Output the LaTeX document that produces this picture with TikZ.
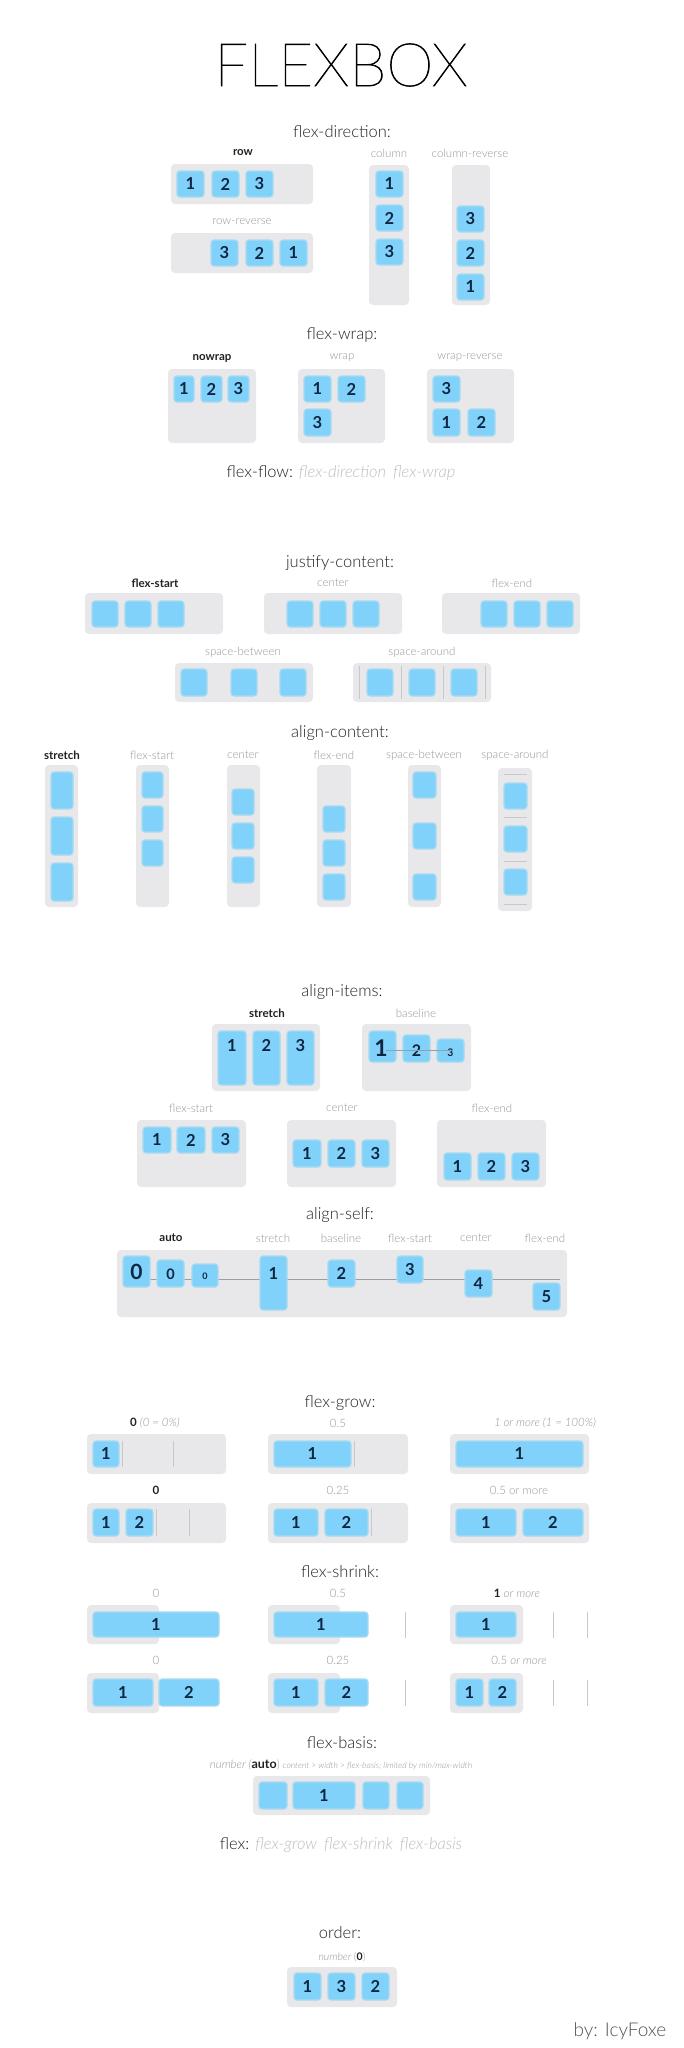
\documentclass[tikz,border=0pt]{standalone}
\usepackage{fontspec}
\setmainfont{Lato}
\newfontfamily\lightf{Lato Light}
\newfontfamily\hairf{Lato Hairline}[FakeBold=1.2]
\definecolor{boxgray}{RGB}{232,232,234}
\definecolor{itemblue}{RGB}{128,210,250}
\definecolor{itemedge}{RGB}{168,218,240}
\definecolor{numcol}{RGB}{14,38,66}
\definecolor{headcol}{RGB}{34,34,34}
\definecolor{lblgray}{RGB}{150,150,150}
\definecolor{palegray}{RGB}{190,190,190}
\definecolor{divcol}{RGB}{200,200,200}
\definecolor{basecol}{RGB}{150,158,168}
\newcommand\numfont{\bfseries\fontsize{16.5}{16.5}\selectfont}
\tikzset{
  boxs/.style={fill=boxgray, draw=none, rounded corners=4pt, inner sep=0pt, outer sep=0pt},
  items/.style={fill=itemblue, draw=itemedge, line width=1.2pt, rounded corners=3pt, inner sep=0pt, outer sep=0pt, text=numcol, font=\numfont},
  num/.style={text=numcol, inner sep=0pt, anchor=base},
  titlef/.style={font=\hairf\fontsize{60}{60}\selectfont, text=black, inner sep=0pt},
  head/.style={font=\lightf\fontsize{16.5}{20}\selectfont, text=headcol, inner sep=0pt},
  lbl/.style={font=\lightf\fontsize{11.5}{14}\selectfont, text=lblgray, inner sep=0pt},
  lblb/.style={font=\bfseries\fontsize{11.5}{14}\selectfont, text=headcol, inner sep=0pt},
  divl/.style={draw=divcol, line width=0.8pt},
  basel/.style={draw=basecol, line width=0.6pt}
}
\newcommand\Bx[5]{\node[boxs, minimum width={(#4)-(#2)}, minimum height={(#5)-(#3)}] (#1) at ({((#2)+(#4))/2},{((#3)+(#5))/2}) {};}
\newcommand\It[7][]{\node[items,#1, minimum width={(#5)-(#3)}, minimum height={(#6)-(#4)}] (#2) at ({((#3)+(#5))/2},{((#4)+(#6))/2}) {#7};}
\begin{document}
\begin{tikzpicture}[x=1pt,y=-1pt]
\useasboundingbox (0,0) rectangle (683,2048);
\fill[white] (0,0) rectangle (683,2048);

\node[titlef] (title) at (341,65) {FLEXBOX};

% ---------------- flex-direction
\node[head] (hfd) at (342,132) {flex-direction:};
\node[lblb] (lrow) at (243,153) {row};
\Bx{brow}{171}{164}{313}{204}
\It{r1}{177}{171}{204}{197}{1}
\It{r2}{212}{171}{239}{197}{2}
\It{r3}{246}{171}{273}{197}{3}
\node[lbl] (lrowr) at (242,222) {row-reverse};
\Bx{browr}{171}{233}{313}{273}
\It{rr3}{211}{240}{238}{266}{3}
\It{rr2}{246}{240}{273}{266}{2}
\It{rr1}{280}{240}{307}{266}{1}
\node[lbl] (lcol) at (389,153) {column};
\Bx{bcol}{369}{165}{409}{305}
\It{c1}{376}{171}{403}{197}{1}
\It{c2}{376}{205}{403}{231}{2}
\It{c3}{376}{239}{403}{265}{3}
\node[lbl] (lcolr) at (470,153) {column-reverse};
\Bx{bcolr}{452}{165}{490}{305}
\It{cr3}{457}{206}{484}{232}{3}
\It{cr2}{457}{240}{484}{266}{2}
\It{cr1}{457}{274}{484}{300}{1}

% ---------------- flex-wrap
\node[head] (hfw) at (342,335) {flex-wrap:};
\node[lblb] (lnw) at (212,358) {nowrap};
\node[lbl] (lw) at (342,358) {wrap};
\node[lbl] (lwr) at (470,358) {wrap-reverse};
\Bx{bnw}{168}{369}{256}{443}
\It{nw1}{174}{376}{194}{402}{1}
\It{nw2}{201}{376}{222}{402}{2}
\It{nw3}{228}{376}{249}{402}{3}
\Bx{bw}{298}{369}{385}{443}
\It{w1}{304}{376}{331}{402}{1}
\It{w2}{338}{376}{365}{402}{2}
\It{w3}{304}{409}{331}{436}{3}
\Bx{bwr}{427}{369}{514}{443}
\It{wr3}{433}{376}{460}{402}{3}
\It{wr1}{433}{409}{460}{436}{1}
\It{wr2}{468}{409}{495}{436}{2}

\node[inner sep=0pt, font=\lightf\fontsize{16.5}{20}\selectfont, text=headcol] (ff) at (341,473)
  {flex-flow:\hspace{6pt}{\itshape\color{palegray}flex-direction\hspace{7pt}flex-wrap}};

% ---------------- justify-content
\node[head] (hjc) at (340,563) {justify-content:};
\node[lblb] (ljc1) at (155,583) {flex-start};
\node[lbl] (ljc2) at (333,583) {center};
\node[lbl] (ljc3) at (512,583) {flex-end};
\Bx{bjc1}{85}{593}{223}{634}
\It{jc1a}{92}{601}{118}{627}{}
\It{jc1b}{125}{601}{151}{627}{}
\It{jc1c}{158}{601}{184}{627}{}
\Bx{bjc2}{264}{593}{402}{634}
\It{jc2a}{287}{601}{313}{627}{}
\It{jc2b}{320}{601}{346}{627}{}
\It{jc2c}{353}{601}{379}{627}{}
\Bx{bjc3}{442}{593}{580}{634}
\It{jc3a}{481}{601}{507}{627}{}
\It{jc3b}{514}{601}{540}{627}{}
\It{jc3c}{547}{601}{573}{627}{}
\node[lbl] (ljc4) at (243,652) {space-between};
\node[lbl] (ljc5) at (422,652) {space-around};
\Bx{bjc4}{175}{663}{313}{702}
\It{jc4a}{181}{669}{207}{696}{}
\It{jc4b}{231}{669}{257}{696}{}
\It{jc4c}{280}{669}{306}{696}{}
\Bx{bjc5}{353}{663}{491}{702}
\draw[divl] (359,666) -- (359,699);
\draw[divl] (401,666) -- (401,699);
\draw[divl] (443,666) -- (443,699);
\draw[divl] (485,666) -- (485,699);
\It{jc5a}{367}{669}{393}{696}{}
\It{jc5b}{409}{669}{435}{696}{}
\It{jc5c}{451}{669}{477}{696}{}

% ---------------- align-content
\node[head] (hac) at (340,733) {align-content:};
\node[lblb] (lac1) at (62,755) {stretch};
\node[lbl] (lac2) at (152,755) {flex-start};
\node[lbl] (lac3) at (243,755) {center};
\node[lbl] (lac4) at (334,755) {flex-end};
\node[lbl] (lac5) at (424,755) {space-between};
\node[lbl] (lac6) at (515,755) {space-around};
\Bx{bac1}{45}{765}{78}{907}
\It{ac1a}{51}{772}{73}{809}{}
\It{ac1b}{51}{817}{73}{855}{}
\It{ac1c}{51}{863}{73}{901}{}
\Bx{bac2}{136}{765}{169}{907}
\It{ac2a}{142}{772}{163}{798}{}
\It{ac2b}{142}{806}{163}{832}{}
\It{ac2c}{142}{840}{163}{866}{}
\Bx{bac3}{227}{765}{260}{907}
\It{ac3a}{232}{789}{254}{815}{}
\It{ac3b}{232}{823}{254}{849}{}
\It{ac3c}{232}{857}{254}{883}{}
\Bx{bac4}{317}{765}{351}{907}
\It{ac4a}{323}{806}{345}{832}{}
\It{ac4b}{323}{840}{345}{866}{}
\It{ac4c}{323}{874}{345}{900}{}
\Bx{bac5}{408}{765}{441}{907}
\It{ac5a}{413}{772}{436}{798}{}
\It{ac5b}{413}{823}{436}{849}{}
\It{ac5c}{413}{874}{436}{900}{}
\Bx{bac6}{498}{768}{532}{911}
\draw[divl] (504,774) -- (527,774);
\draw[divl] (504,817) -- (527,817);
\draw[divl] (504,861) -- (527,861);
\draw[divl] (504,904) -- (527,904);
\It{ac6a}{504}{783}{527}{809}{}
\It{ac6b}{504}{826}{527}{852}{}
\It{ac6c}{504}{869}{527}{895}{}

% ---------------- align-items
\node[head] (hai) at (342,992) {align-items:};
\node[lblb] (lai1) at (267,1013) {stretch};
\node[lbl] (lai2) at (416,1013) {baseline};
\Bx{bai1}{212}{1024}{320}{1091}
\It{ai1a}{218}{1031}{246}{1085}{}
\It{ai1b}{253}{1031}{280}{1085}{}
\It{ai1c}{287}{1031}{314}{1085}{}
\node[num, font=\numfont] (tai1a) at (232,1051) {1};
\node[num, font=\numfont] (tai1b) at (266.5,1051) {2};
\node[num, font=\numfont] (tai1c) at (300.5,1051) {3};
\Bx{bai2}{362}{1024}{471}{1091}
\It{ai2a}{369}{1031}{396}{1062}{}
\It{ai2b}{403}{1035}{430}{1062}{}
\It{ai2c}{437}{1039}{464}{1062}{}
\node[num, font=\bfseries\fontsize{23}{23}\selectfont] (tai2a) at (381,1056) {1};
\node[num, font=\bfseries\fontsize{16}{16}\selectfont] (tai2b) at (416.5,1056) {2};
\node[num, font=\bfseries\fontsize{10.5}{10.5}\selectfont] (tai2c) at (450.5,1056) {3};
\draw[basel] (386,1050) -- (453,1050);
\node[lbl] (lai3) at (191,1108) {flex-start};
\node[lbl] (lai4) at (342,1108) {center};
\node[lbl] (lai5) at (492,1108) {flex-end};
\Bx{bai3}{137}{1120}{246}{1187}
\It{ai3a}{143}{1127}{171}{1153}{1}
\It{ai3b}{177}{1127}{205}{1153}{2}
\It{ai3c}{212}{1127}{239}{1153}{3}
\Bx{bai4}{287}{1120}{396}{1187}
\It{ai4a}{293}{1140}{321}{1167}{1}
\It{ai4b}{328}{1140}{355}{1167}{2}
\It{ai4c}{362}{1140}{389}{1167}{3}
\Bx{bai5}{437}{1120}{546}{1187}
\It{ai5a}{444}{1153}{471}{1180}{1}
\It{ai5b}{478}{1153}{505}{1180}{2}
\It{ai5c}{512}{1153}{539}{1180}{3}

% ---------------- align-self
\node[head] (has) at (340,1215) {align-self:};
\node[lblb] (las1) at (171,1238) {auto};
\node[lbl] (las2) at (273,1238) {stretch};
\node[lbl] (las3) at (341,1238) {baseline};
\node[lbl] (las4) at (410,1238) {flex-start};
\node[lbl] (las5) at (476,1238) {center};
\node[lbl] (las6) at (545,1238) {flex-end};
\Bx{bas}{117}{1250}{567}{1317}
\draw[basel] (123,1279) -- (560,1279);
\It{as0a}{123}{1256}{150}{1287}{}
\It{as0b}{157}{1260}{184}{1287}{}
\It{as0c}{192}{1264}{218}{1287}{}
\It{as1}{260}{1256}{287}{1310}{}
\It{as2}{328}{1260}{355}{1287}{}
\It{as3}{397}{1256}{423}{1283}{3}
\It{as4}{465}{1270}{492}{1297}{4}
\It{as5}{533}{1283}{560}{1310}{5}
\node[num, font=\bfseries\fontsize{21}{21}\selectfont] (tas0a) at (136.5,1279) {0};
\node[num, font=\bfseries\fontsize{14.5}{14.5}\selectfont] (tas0b) at (170.5,1279) {0};
\node[num, font=\bfseries\fontsize{9}{9}\selectfont] (tas0c) at (205,1279) {0};
\node[num, font=\numfont] (tas1) at (273.5,1279) {1};
\node[num, font=\numfont] (tas2) at (341.5,1279) {2};

% ---------------- flex-grow
\node[head] (hfg) at (340,1403) {flex-grow:};
\node[lbl] (lfg1) at (155,1423) {{\normalfont\bfseries\color{headcol}0} {\itshape(0 = 0\%)}};
\node[lbl] (lfg2) at (338,1423) {0.5};
\node[lbl] (lfg3) at (545,1423) {\itshape 1 or more (1 = 100\%)};
\Bx{bfg1}{87}{1434}{226}{1474}
\draw[divl] (122,1441) -- (122,1467);
\draw[divl] (173,1441) -- (173,1467);
\It{fg1a}{93}{1441}{119}{1467}{1}
\Bx{bfg2}{268}{1434}{408}{1474}
\draw[divl] (354,1441) -- (354,1467);
\It{fg2a}{274}{1441}{351}{1467}{1}
\Bx{bfg3}{450}{1434}{589}{1474}
\It{fg3a}{456}{1441}{583}{1467}{1}
\node[lblb] (lfg4) at (156,1490) {0};
\node[lbl] (lfg5) at (338,1490) {0.25};
\node[lbl] (lfg6) at (519,1490) {0.5 or more};
\Bx{bfg4}{87}{1503}{226}{1543}
\draw[divl] (156,1509) -- (156,1536);
\draw[divl] (189,1509) -- (189,1536);
\It{fg4a}{93}{1509}{119}{1536}{1}
\It{fg4b}{126}{1509}{153}{1536}{2}
\Bx{bfg5}{268}{1503}{408}{1543}
\draw[divl] (371,1509) -- (371,1536);
\It{fg5a}{274}{1509}{318}{1536}{1}
\It{fg5b}{325}{1509}{368}{1536}{2}
\Bx{bfg6}{450}{1503}{589}{1543}
\It{fg6a}{456}{1509}{516}{1536}{1}
\It{fg6b}{523}{1509}{583}{1536}{2}

% ---------------- flex-shrink
\node[head] (hfs) at (340,1572) {flex-shrink:};
\node[lbl] (lfs1) at (156,1593) {0};
\node[lbl] (lfs2) at (338,1593) {0.5};
\node[lbl] (lfs3) at (517,1593) {{\normalfont\bfseries\color{headcol}1} {\itshape or more}};
\Bx{bfs1}{87}{1605}{159}{1644}
\It{fs1a}{93}{1612}{219}{1637}{1}
\Bx{bfs2}{268}{1605}{340}{1644}
\It{fs2a}{274}{1612}{368}{1637}{1}
\draw[divl] (405,1612) -- (405,1638);
\Bx{bfs3}{450}{1605}{523}{1644}
\It{fs3a}{456}{1612}{516}{1637}{1}
\draw[divl] (553,1612) -- (553,1638);
\draw[divl] (587,1612) -- (587,1638);
\node[lbl] (lfs4) at (156,1660) {0};
\node[lbl] (lfs5) at (338,1660) {0.25};
\node[lbl] (lfs6) at (519,1660) {0.5 {\itshape or more}};
\Bx{bfs4}{87}{1673}{159}{1713}
\It{fs4a}{93}{1679}{153}{1706}{1}
\It{fs4b}{159}{1679}{219}{1706}{2}
\Bx{bfs5}{268}{1673}{340}{1713}
\It{fs5a}{274}{1679}{318}{1706}{1}
\It{fs5b}{325}{1679}{368}{1706}{2}
\draw[divl] (405,1680) -- (405,1706);
\Bx{bfs6}{450}{1673}{523}{1713}
\It{fs6a}{456}{1679}{483}{1706}{1}
\It{fs6b}{489}{1679}{516}{1706}{2}
\draw[divl] (553,1680) -- (553,1706);
\draw[divl] (587,1680) -- (587,1706);

% ---------------- flex-basis
\node[head] (hfb) at (342,1743) {flex-basis:};
\node[lbl] (lfb) at (341,1765) {{\itshape number (}{\normalfont\bfseries\color{headcol}\fontsize{12.5}{14}\selectfont auto}{)}\hspace{3pt}{\itshape\fontsize{8.5}{10}\selectfont content > width > flex-basis; limited by min/max-width}};
\Bx{bfb}{253}{1776}{430}{1815}
\It{fba}{259}{1782}{287}{1809}{}
\It{fbb}{293}{1782}{355}{1809}{1}
\It{fbc}{363}{1782}{389}{1809}{}
\It{fbd}{397}{1782}{423}{1809}{}

\node[inner sep=0pt, font=\lightf\fontsize{16.5}{20}\selectfont, text=headcol] (fl) at (341,1845)
  {flex:\hspace{6pt}{\itshape\color{palegray}flex-grow\hspace{7pt}flex-shrink\hspace{7pt}flex-basis}};

% ---------------- order
\node[head] (hord) at (340,1933) {order:};
\node[lbl, font=\lightf\fontsize{10.5}{12}\selectfont] (lord) at (342,1957) {{\itshape number }({\normalfont\bfseries\color{headcol}0})};
\Bx{bord}{287}{1967}{397}{2007}
\It{o1}{294}{1973}{321}{2000}{1}
\It{o3}{328}{1973}{355}{2000}{3}
\It{o2}{362}{1973}{389}{2000}{2}

\node[inner sep=0pt, font=\lightf\fontsize{19}{22}\selectfont, text={rgb,255:red,85;green,85;blue,85}] (by) at (620,2031) {by: IcyFoxe};
\end{tikzpicture}
\end{document}
